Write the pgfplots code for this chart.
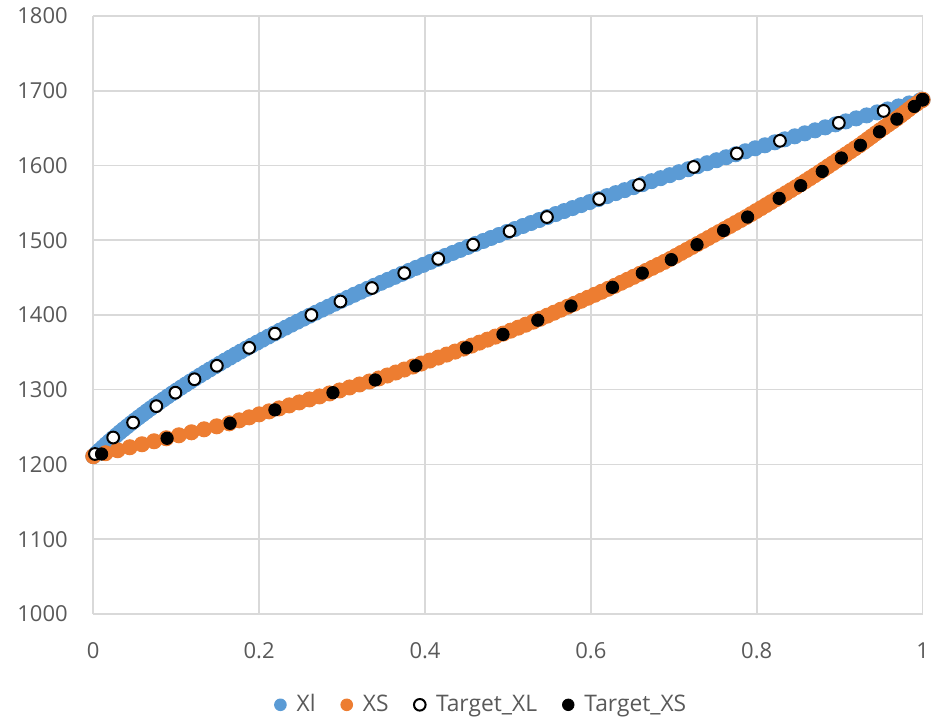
\documentclass[border=0pt]{standalone}
\usepackage{pgfplots}
\pgfplotsset{compat=1.18}
\usepackage{fontspec}
\setmainfont{Open Sans}
\definecolor{xlblue}{HTML}{5B9BD5}
\definecolor{xsorange}{HTML}{ED7D31}
\definecolor{gridgray}{HTML}{D9D9D9}
\definecolor{txtgray}{HTML}{595959}
\begin{document}
\begin{tikzpicture}
\useasboundingbox (-46.65pt,-53.5pt) rectangle (427.4pt,307pt);
\begin{axis}[
  at={(0,0)}, anchor=south west,
  scale only axis, width=414.7pt, height=299pt,
  xmin=0, xmax=1, ymin=1000, ymax=1800,
  xtick={0,0.2,0.4,0.6,0.8,1}, xticklabels={0,0.2,0.4,0.6,0.8,1},
  ytick={1000,1100,1200,1300,1400,1500,1600,1700,1800},
  yticklabels={1000,1100,1200,1300,1400,1500,1600,1700,1800},
  /pgf/number format/assume math mode=true,
  grid=major, major grid style={draw=gridgray, line width=0.8pt},
  axis line style={draw=none}, major tick length=0pt,
  tick label style={font=\fontsize{11}{13}\selectfont, text=txtgray},
  y tick label style={anchor=east, inner sep=0pt, xshift=-12.6pt},
  x tick label style={anchor=north, inner sep=0pt, yshift=-14pt},
  clip=false,
  legend columns=4,
  legend style={at={(0.469,-0.152)}, anchor=center, draw=none, fill=none,
    font=\fontsize{11.4}{13}\selectfont, text=txtgray,
    /tikz/every even column/.append style={column sep=10.5pt}},
  legend image code/.code={\path[draw=none,fill=none] (-3.1pt,0pt) (6.1pt,0pt);
    \draw[#1, mark size=2.9pt] plot coordinates {(0pt,0pt)};},
]
% Xl (liquidus) dense series
\addplot[only marks, mark=*, mark size=3.75pt, mark options={draw=xlblue, fill=xlblue, line width=0.5pt}] coordinates {
(0,1211) (0.0037,1215) (0.0076,1219) (0.0115,1223) (0.0154,1227) (0.0195,1231)
(0.0236,1235) (0.0279,1239) (0.0321,1243) (0.0365,1247) (0.0410,1251) (0.0455,1255)
(0.0501,1259) (0.0548,1263) (0.0596,1267) (0.0644,1271) (0.0693,1275) (0.0743,1279)
(0.0794,1283) (0.0846,1287) (0.0898,1291) (0.0951,1295) (0.1005,1299) (0.1060,1303)
(0.1115,1307) (0.1171,1311) (0.1228,1315) (0.1286,1319) (0.1345,1323) (0.1404,1327)
(0.1465,1331) (0.1526,1335) (0.1587,1339) (0.1650,1343) (0.1713,1347) (0.1777,1351)
(0.1842,1355) (0.1908,1359) (0.1975,1363) (0.2042,1367) (0.2110,1371) (0.2179,1375)
(0.2248,1379) (0.2319,1383) (0.2390,1387) (0.2462,1391) (0.2535,1395) (0.2608,1399)
(0.2683,1403) (0.2758,1407) (0.2834,1411) (0.2910,1415) (0.2988,1419) (0.3066,1423)
(0.3145,1427) (0.3225,1431) (0.3306,1435) (0.3387,1439) (0.3469,1443) (0.3552,1447)
(0.3636,1451) (0.3721,1455) (0.3806,1459) (0.3892,1463) (0.3979,1467) (0.4066,1471)
(0.4155,1475) (0.4244,1479) (0.4334,1483) (0.4425,1487) (0.4517,1491) (0.4609,1495)
(0.4703,1499) (0.4796,1503) (0.4891,1507) (0.4987,1511) (0.5083,1515) (0.5180,1519)
(0.5278,1523) (0.5377,1527) (0.5476,1531) (0.5576,1535) (0.5677,1539) (0.5779,1543)
(0.5882,1547) (0.5985,1551) (0.6090,1555) (0.6194,1559) (0.6300,1563) (0.6407,1567)
(0.6514,1571) (0.6622,1575) (0.6731,1579) (0.6841,1583) (0.6951,1587) (0.7062,1591)
(0.7174,1595) (0.7287,1599) (0.7401,1603) (0.7515,1607) (0.7630,1611) (0.7746,1615)
(0.7863,1619) (0.7981,1623) (0.8099,1627) (0.8218,1631) (0.8338,1635) (0.8459,1639)
(0.8580,1643) (0.8703,1647) (0.8826,1651) (0.8949,1655) (0.9074,1659) (0.9199,1663)
(0.9325,1667) (0.9452,1671) (0.9580,1675) (0.9709,1679) (0.9838,1683) (0.9968,1687)
(1.0,1688)
};
\addlegendentry{Xl}
% XS (solidus) dense series
\addplot[only marks, mark=*, mark size=3.75pt, mark options={draw=xsorange, fill=xsorange, line width=0.5pt}] coordinates {
(0,1211) (0.0147,1215) (0.0293,1219) (0.0440,1223) (0.0587,1227) (0.0733,1231)
(0.0880,1235) (0.1032,1239) (0.1184,1243) (0.1336,1247) (0.1488,1251) (0.1640,1255)
(0.1760,1259) (0.1880,1263) (0.2000,1267) (0.2120,1271) (0.2241,1275) (0.2363,1279)
(0.2484,1283) (0.2606,1287) (0.2728,1291) (0.2849,1295) (0.2970,1299) (0.3090,1303)
(0.3210,1307) (0.3330,1311) (0.3442,1315) (0.3545,1319) (0.3648,1323) (0.3751,1327)
(0.3854,1331) (0.3956,1335) (0.4058,1339) (0.4160,1343) (0.4261,1347) (0.4363,1351)
(0.4465,1355) (0.4562,1359) (0.4657,1363) (0.4753,1367) (0.4848,1371) (0.4943,1375)
(0.5033,1379) (0.5124,1383) (0.5214,1387) (0.5305,1391) (0.5391,1395) (0.5473,1399)
(0.5555,1403) (0.5637,1407) (0.5720,1411) (0.5801,1415) (0.5883,1419) (0.5964,1423)
(0.6046,1427) (0.6128,1431) (0.6209,1435) (0.6288,1439) (0.6364,1443) (0.6440,1447)
(0.6515,1451) (0.6591,1455) (0.6665,1459) (0.6739,1463) (0.6812,1467) (0.6886,1471)
(0.6958,1475) (0.7024,1479) (0.7089,1483) (0.7155,1487) (0.7221,1491) (0.7286,1495)
(0.7352,1499) (0.7417,1503) (0.7482,1507) (0.7547,1511) (0.7612,1515) (0.7677,1519)
(0.7742,1523) (0.7807,1527) (0.7872,1531) (0.7933,1535) (0.7993,1539) (0.8054,1543)
(0.8114,1547) (0.8174,1551) (0.8235,1555) (0.8295,1559) (0.8354,1563) (0.8413,1567)
(0.8473,1571) (0.8531,1575) (0.8587,1579) (0.8643,1583) (0.8700,1587) (0.8756,1591)
(0.8810,1595) (0.8863,1599) (0.8917,1603) (0.8970,1607) (0.9024,1611) (0.9078,1615)
(0.9132,1619) (0.9186,1623) (0.9240,1627) (0.9289,1631) (0.9338,1635) (0.9387,1639)
(0.9436,1643) (0.9486,1647) (0.9538,1651) (0.9589,1655) (0.9641,1659) (0.9692,1663)
(0.9739,1667) (0.9786,1671) (0.9833,1675) (0.9880,1679) (0.9933,1683) (0.9987,1687)
(1.0,1688)
};
\addlegendentry{XS}
% Target_XL
\addplot[only marks, mark=*, mark size=2.95pt, mark options={draw=black, fill=white, line width=1pt}] coordinates {
(0.002,1214) (0.024,1236) (0.048,1256) (0.076,1278) (0.099,1296) (0.122,1314)
(0.149,1332) (0.188,1356) (0.219,1375) (0.263,1400) (0.298,1418) (0.336,1436)
(0.375,1456) (0.416,1475) (0.458,1494) (0.502,1512) (0.547,1531) (0.610,1555)
(0.658,1574) (0.724,1598) (0.776,1616) (0.828,1633) (0.899,1657) (0.953,1673)
(1.0,1688)
};
\addlegendentry{Target\_XL}
% Target_XS
\addplot[only marks, mark=*, mark size=3.1pt, mark options={draw=black, fill=black, line width=0.4pt}] coordinates {
(0.010,1214) (0.089,1235) (0.165,1255) (0.219,1273) (0.289,1296) (0.340,1313)
(0.389,1332) (0.450,1356) (0.494,1374) (0.536,1393) (0.576,1412) (0.626,1437)
(0.662,1456) (0.697,1474) (0.728,1494) (0.760,1513) (0.789,1531) (0.827,1556)
(0.853,1573) (0.879,1592) (0.902,1610) (0.925,1627) (0.948,1645) (0.969,1662)
(0.990,1679) (1.0,1688)
};
\addlegendentry{Target\_XS}
\end{axis}
\end{tikzpicture}
\end{document}
